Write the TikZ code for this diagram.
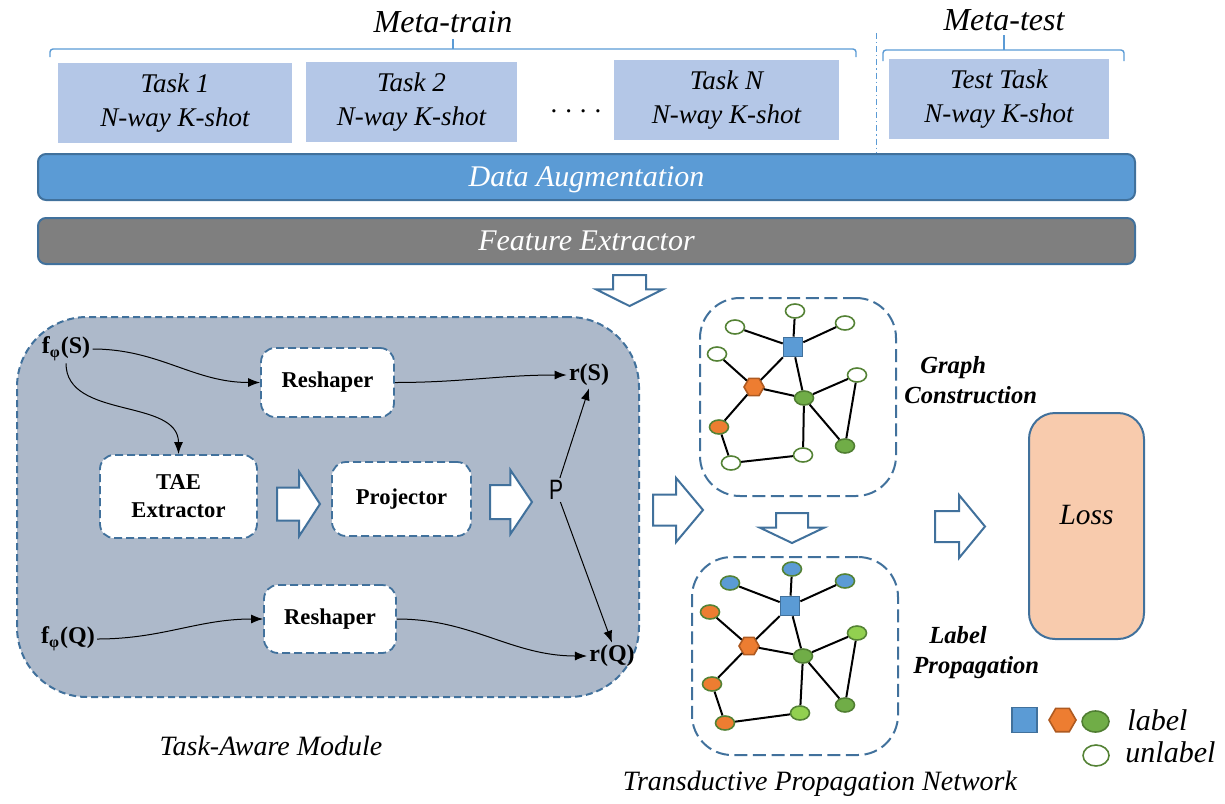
\documentclass[tikz,border=0pt]{standalone}
\usepackage{fontspec}
\setmainfont{Liberation Serif}
\setsansfont{Liberation Sans}
\usetikzlibrary{positioning,shapes.geometric,shapes.arrows,arrows.meta}

\definecolor{taskblue}{HTML}{B4C7E7}
\definecolor{augblue}{HTML}{5B9BD5}
\definecolor{featgray}{HTML}{7F7F7F}
\definecolor{bordblue}{HTML}{41719C}
\definecolor{tamgray}{HTML}{ADB9CA}
\definecolor{losspeach}{HTML}{F8CBAD}
\definecolor{hexorange}{HTML}{ED7D31}
\definecolor{hexline}{HTML}{AE5A21}
\definecolor{labgreen}{HTML}{70AD47}
\definecolor{labline}{HTML}{507E32}
\definecolor{unline}{HTML}{548235}
\definecolor{ltgreen}{HTML}{92D050}

\begin{document}
\begin{tikzpicture}[x=0.5pt,y=-0.5pt,
    head/.style={font=\fontsize{16}{19}\selectfont\itshape, inner sep=0pt},
    bracket/.style={draw=augblue, line width=0.7pt, rounded corners=1.5pt},
    task/.style={fill=taskblue, align=center, font=\fontsize{13.5}{17}\selectfont\itshape},
    bar/.style={draw=bordblue, line width=1pt, rounded corners=4pt, minimum width=548.5pt,
      minimum height=23pt, text=white, text depth=0pt, font=\fontsize{15}{18}\selectfont\itshape},
    module/.style={draw=bordblue, line width=1pt, dash pattern=on 3.5pt off 2pt},
    inbox/.style={draw=bordblue, line width=0.9pt, dash pattern=on 4pt off 2pt, fill=white,
      rounded corners=7pt, align=center, font=\fontsize{11.3}{14}\selectfont\bfseries},
    sym/.style={font=\fontsize{12}{14}\selectfont\bfseries, inner sep=1pt},
    flow/.style={-{Latex[length=6pt,width=4.5pt]}, line width=0.5pt},
    hollow/.style={single arrow, draw=bordblue, fill=white, line width=1pt, inner xsep=0pt,
      anchor=tail},
    gbox/.style={draw=bordblue, line width=1pt, dash pattern=on 6.5pt off 2.8pt, rounded corners=20pt},
    edge/.style={line width=1pt},
    sqn/.style={rectangle, draw=bordblue, fill=augblue, line width=0.8pt, minimum size=9.5pt, inner sep=0pt},
    hexn/.style={regular polygon, regular polygon sides=6, draw=hexline, fill=hexorange,
      line width=0.8pt, minimum size=10pt, inner sep=0pt},
    unl/.style={ellipse, draw=unline, fill=white, line width=0.8pt, minimum width=9.5pt,
      minimum height=7pt, inner sep=0pt},
    labn/.style={unl, draw=labline, fill=labgreen},
    gtext/.style={font=\fontsize{12.3}{15}\selectfont\bfseries\itshape, align=left, inner sep=0pt, anchor=west},
    caption/.style={font=\fontsize{14}{17}\selectfont\itshape, inner sep=0pt},
    legtext/.style={font=\fontsize{15}{18}\selectfont\itshape, inner sep=0pt, anchor=base west}
  ]
  \useasboundingbox (0,0) rectangle (1225,803);

  % meta-train / meta-test headers
  \node[head] (mtrain) at (443,22) {Meta-train};
  \node[head] (mtest) at (1004,20) {Meta-test};
  \draw[bracket] (50,57) -- (50,49) -- (856,49) -- (856,57);
  \draw[bracket] (453,49) -- (453,39);
  \draw[bracket] (883,61) -- (883,50) -- (1124,50) -- (1124,61);
  \draw[bracket] (1004,50) -- (1004,35);
  \draw[augblue, line width=0.4pt, dash pattern=on 3pt off 1.5pt on 0.6pt off 1.5pt] (876,33) -- (876,152);

  % tasks
  \node[task, minimum width=117pt, minimum height=40pt] (task1) at (175,103) {Task 1\\N-way K-shot};
  \node[task, minimum width=105.5pt, minimum height=40pt] (task2) at (411.5,102) {Task 2\\N-way K-shot};
  \node[font=\fontsize{13.5}{16}\selectfont] (dots) at (576,111) {.\hspace{4pt}.\hspace{4pt}.\hspace{4pt}.};
  \node[task, minimum width=112.5pt, minimum height=40pt] (taskN) at (726.5,100) {Task N\\N-way K-shot};
  \node[task, minimum width=110pt, minimum height=40pt] (test) at (999,99) {Test Task\\N-way K-shot};

  % shared stages
  \node[bar, fill=augblue, yshift=-1pt] (aug) at (586.5,175) {Data Augmentation};
  \node[bar, fill=featgray] (feat) at (586.5,241) {Feature Extractor};
  \node[hollow, rotate=-90, minimum height=15.5pt, inner ysep=7.75pt, single arrow head extend=8.5pt,
    single arrow tip angle=127] (down1) at (629.5,274) {};

  % task-aware module
  \node[module, fill=tamgray, rounded corners=35pt, minimum width=311pt, minimum height=190pt] (tam) at (328,507) {};
  \node[sym] (fS) at (66,349) {f\textsubscript{φ}(S)};
  \node[sym] (fQ) at (68,639) {f\textsubscript{φ}(Q)};
  \node[inbox, minimum width=66.5pt, minimum height=34.5pt] (resh1) at (327.5,382.5) {Reshaper};
  \node[inbox, minimum width=78.5pt, minimum height=41.5pt] (tae) at (178.5,496.5) {TAE\\Extractor};
  \node[inbox, minimum width=69.5pt, minimum height=37pt] (proj) at (401.5,499) {Projector};
  \node[inbox, minimum width=66pt, minimum height=34pt] (resh2) at (330,619) {Reshaper};
  \node[sym] (rS) at (589,375) {r(S)};
  \node[sym] (rQ) at (612,656) {r(Q)};
  \node[font=\sffamily\fontsize{14}{16}\selectfont, xscale=0.75, inner sep=1pt] (P) at (556,490) {P};
  \node[hollow, minimum height=21.5pt, inner ysep=7.75pt, single arrow head extend=7.75pt,
    single arrow tip angle=114] (a1) at (276,504) {};
  \node[hollow, minimum height=21pt, inner ysep=8pt, single arrow head extend=7.5pt,
    single arrow tip angle=112] (a2) at (489,502) {};
  \draw[flow] (fS.east) to[out=0,in=180] (resh1.west);
  \draw[flow] (fS.south) to[out=-90,in=90] (tae.north);
  \draw[flow] (resh1.east) to[out=0,in=180] (rS.west);
  \draw[flow] (fQ.east) to[out=0,in=180] (resh2.west);
  \draw[flow] (resh2.east) to[out=0,in=180] (rQ.west);
  \draw[flow] (P) -- (rS.south);
  \draw[flow] (P) -- (rQ.north);

  % transductive propagation network
  \node[hollow, minimum height=25pt, inner ysep=7.25pt, single arrow head extend=8.25pt,
    single arrow tip angle=100] (a3) at (652,510) {};
  \node[gbox, minimum width=98pt, minimum height=99pt] (gc) at (798,397) {};
  \node[gbox, minimum width=103pt, minimum height=99pt] (lp) at (795,656) {};
  \node[hollow, rotate=-90, minimum height=15pt, inner ysep=7.5pt, single arrow head extend=8.25pt,
    single arrow tip angle=129] (down2) at (792,512) {};
  \node[gtext] (gctxt) at (904,380) {\hspace{8pt}Graph\\Construction};
  \node[gtext] (lptxt) at (913,653) {\hspace{8pt}Label\\Propagation};

  % graph construction
  \node[sqn] (g1sq) at (793,347) {};
  \node[unl] (g1top) at (795,311) {};
  \node[unl] (g1lt) at (735,327) {};
  \node[unl] (g1rt) at (845,323) {};
  \node[unl] (g1l) at (717,354) {};
  \node[hexn] (g1hex) at (754,387) {};
  \node[labn] (g1gr) at (804,398) {};
  \node[unl] (g1r) at (857,375) {};
  \node[labn, draw=unline, fill=hexorange] (g1or) at (719,427) {};
  \node[labn] (g1br) at (845,446) {};
  \node[unl] (g1bl) at (731,463) {};
  \node[unl] (g1bot) at (803,455) {};

  % label propagation
  \node[sqn] (g2sq) at (790,606) {};
  \node[labn, draw=unline, fill=augblue] (g2top) at (792,569) {};
  \node[labn, draw=unline, fill=augblue] (g2lt) at (730,583) {};
  \node[labn, draw=unline, fill=augblue] (g2rt) at (845,581) {};
  \node[labn, draw=unline, fill=hexorange] (g2l) at (710,612) {};
  \node[hexn] (g2hex) at (749,646) {};
  \node[labn] (g2gr) at (803,656) {};
  \node[labn, draw=unline, fill=ltgreen] (g2r) at (857,633) {};
  \node[labn, draw=unline, fill=hexorange] (g2or) at (712,684) {};
  \node[labn] (g2br) at (845,705) {};
  \node[labn, draw=unline, fill=hexorange] (g2bl) at (725,723) {};
  \node[labn, draw=unline, fill=ltgreen] (g2bot) at (800,713) {};

  \foreach \g in {g1,g2}
    \foreach \a/\b in {sq/top,sq/lt,sq/rt,sq/hex,sq/gr,l/hex,hex/gr,hex/or,gr/r,gr/br,gr/bot,r/br,or/bl,bl/bot}
      \draw[edge] (\g\a) -- (\g\b);

  % loss
  \node[hollow, minimum height=25pt, inner ysep=7.25pt, single arrow head extend=8pt,
    single arrow tip angle=101] (a5) at (934,526.5) {};
  \node[draw=bordblue, fill=losspeach, line width=1pt, rounded corners=13pt,
    minimum width=57.5pt, minimum height=113pt] (loss) at (1086.5,526) {};
  \node[font=\fontsize{14.7}{17}\selectfont\itshape, yshift=5.5pt] (losstxt) at (loss.center) {Loss};

  % captions
  \node[caption] (tamtxt) at (271,746) {Task-Aware Module};
  \node[caption] (tpntxt) at (820,784) {Transductive Propagation Network};

  % legend
  \node[sqn, minimum size=12.5pt] (lgsq) at (1024.5,720) {};
  \node[hexn, minimum size=13.5pt] (lghex) at (1062.5,720) {};
  \node[labn, minimum width=13.5pt, minimum height=10.5pt] (lglab) at (1095.5,721.5) {};
  \node[unl, minimum width=13pt, minimum height=10.5pt] (lgunl) at (1096,755.5) {};
  \node[legtext] (lglabtxt) at (1127,730) {label};
  \node[legtext] (lgunltxt) at (1125,762) {unlabel};
\end{tikzpicture}
\end{document}
